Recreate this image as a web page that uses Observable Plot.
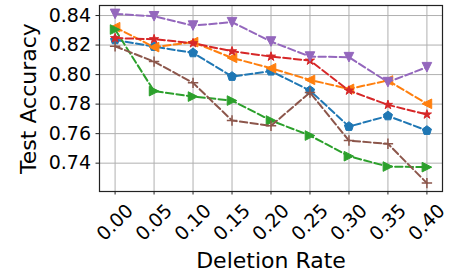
<!DOCTYPE html>
<html>
<head>
<meta charset="utf-8">
<script src="https://cdn.jsdelivr.net/npm/d3@7"></script>
<script src="https://cdn.jsdelivr.net/npm/@observablehq/plot@0.6"></script>
<style>
  html, body { margin: 0; padding: 0; background: #fff; }
  svg { font-family: "DejaVu Sans", sans-serif; }
</style>
</head>
<body>
<div id="chart"></div>
<script>
const rates = [0.00, 0.05, 0.10, 0.15, 0.20, 0.25, 0.30, 0.35, 0.40];
const xTickLabels = ["0.00", "0.05", "0.10", "0.15", "0.20", "0.25", "0.30", "0.35", "0.40"];
const yTicks = [0.74, 0.76, 0.78, 0.80, 0.82, 0.84];

const blueAcc   = [0.8235, 0.8190, 0.8147, 0.7987, 0.8023, 0.7892, 0.7648, 0.7720, 0.7621];
const orangeAcc = [0.8321, 0.8186, 0.8220, 0.8113, 0.8043, 0.7964, 0.7903, 0.7960, 0.7802];
const greenAcc  = [0.8305, 0.7888, 0.7851, 0.7824, 0.7689, 0.7587, 0.7447, 0.7377, 0.7373];
const redAcc    = [0.8247, 0.8240, 0.8213, 0.8158, 0.8122, 0.8095, 0.7892, 0.7795, 0.7730];
const purpleAcc = [0.8411, 0.8395, 0.8332, 0.8355, 0.8224, 0.8122, 0.8118, 0.7949, 0.8050];
const brownAcc  = [0.8192, 0.8088, 0.7944, 0.7689, 0.7653, 0.7879, 0.7553, 0.7531, 0.7265];

function sym(fn) { return { draw(ctx, size) { fn(ctx, Math.sqrt(size / Math.PI)); } }; }
const pentagon = sym((c, h) => {
  for (let i = 0; i < 5; i++) {
    const a = -Math.PI / 2 + i * 2 * Math.PI / 5;
    const px = h * Math.cos(a), py = h * Math.sin(a);
    i ? c.lineTo(px, py) : c.moveTo(px, py);
  }
  c.closePath();
});
const starSym = sym((c, h) => {
  const r2 = h * 0.381966;
  for (let i = 0; i < 10; i++) {
    const a = -Math.PI / 2 + i * Math.PI / 5;
    const rr = i % 2 ? r2 : h;
    const px = rr * Math.cos(a), py = rr * Math.sin(a);
    i ? c.lineTo(px, py) : c.moveTo(px, py);
  }
  c.closePath();
});
const triLeft = sym((c, h) => { c.moveTo(-h, 0); c.lineTo(h, -h); c.lineTo(h, h); c.closePath(); });
const triRight = sym((c, h) => { c.moveTo(h, 0); c.lineTo(-h, -h); c.lineTo(-h, h); c.closePath(); });
const triDown = sym((c, h) => { c.moveTo(0, h); c.lineTo(-h, -h); c.lineTo(h, -h); c.closePath(); });
const plusSym = sym((c, h) => { c.moveTo(-h, 0); c.lineTo(h, 0); c.moveTo(0, -h); c.lineTo(0, h); });

const seriesList = [
  { values: blueAcc,   color: "#1f77b4", symbol: pentagon, filled: true },
  { values: orangeAcc, color: "#ff7f0e", symbol: triLeft,  filled: true },
  { values: greenAcc,  color: "#2ca02c", symbol: triRight, filled: true },
  { values: redAcc,    color: "#d62728", symbol: starSym,  filled: true },
  { values: purpleAcc, color: "#9467bd", symbol: triDown,  filled: true },
  { values: brownAcc,  color: "#8c564b", symbol: plusSym,  filled: false }
];

const marks = [
  Plot.gridX(rates, { stroke: "#b0b0b0", strokeOpacity: 1, strokeWidth: 1 }),
  Plot.gridY(yTicks, { stroke: "#b0b0b0", strokeOpacity: 1, strokeWidth: 1 })
];

for (const s of seriesList) {
  const data = rates.map((r, i) => ({ rate: r, acc: s.values[i] }));
  marks.push(Plot.line(data, {
    x: "rate", y: "acc", stroke: s.color, strokeWidth: 2, strokeDasharray: "7.4,3.2"
  }));
  marks.push(Plot.dot(data, s.filled ? {
    x: "rate", y: "acc", symbol: () => s.symbol, r: 4.8, fill: s.color, stroke: s.color, strokeWidth: 1
  } : {
    x: "rate", y: "acc", symbol: () => s.symbol, r: 5.2, fill: "none", stroke: s.color, strokeWidth: 1.5
  }));
}

marks.push(
  Plot.frame({ stroke: "#222", strokeWidth: 1.2 }),
  Plot.axisY(yTicks, {
    tickFormat: d3.format(".2f"), fontSize: 19, tickSize: 3.5, tickPadding: 5, label: null, stroke: "#222"
  }),
  Plot.axisX(rates, { tickSize: 3.5, tickFormat: () => "", label: null, stroke: "#222" }),
  Plot.text(rates, {
    x: d => d, text: (d, i) => xTickLabels[i], frameAnchor: "bottom", dy: 31,
    rotate: -45, textAnchor: "middle", lineAnchor: "middle", fontSize: 19, fill: "black"
  }),
  Plot.text(["Deletion Rate"], {
    text: d => d, frameAnchor: "bottom", dy: 69, textAnchor: "middle", lineAnchor: "middle",
    fontSize: 22, fill: "black"
  }),
  Plot.text(["Test Accuracy"], {
    text: d => d, frameAnchor: "left", dx: -71, rotate: -90, textAnchor: "middle", lineAnchor: "middle",
    fontSize: 22, fill: "black"
  })
);

const chart = Plot.plot({
  width: 450,
  height: 270,
  marginLeft: 99,
  marginRight: 8,
  marginTop: 5,
  marginBottom: 79,
  style: { fontFamily: "DejaVu Sans, sans-serif", background: "white", color: "black" },
  x: { domain: [-0.02, 0.42], axis: null },
  y: { domain: [0.7208, 0.8468], axis: null },
  marks
});
document.getElementById("chart").appendChild(chart);
</script>
</body>
</html>
